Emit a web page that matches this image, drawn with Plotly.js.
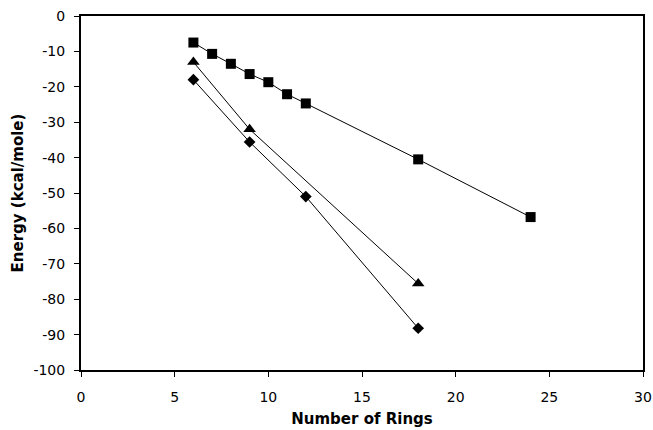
<!DOCTYPE html>
<html><head><meta charset="utf-8">
<script src="https://cdn.plot.ly/plotly-3.0.1.min.js"></script>
<style>html,body{margin:0;padding:0;background:#fff}#chart{width:653px;height:430px}</style>
</head><body><div id="chart"></div>
<script>
const squareX = [6, 7, 8, 9, 10, 11, 12, 18, 24];
const squareY = [-7.5, -10.7, -13.5, -16.4, -18.7, -22.1, -24.7, -40.5, -56.8];
const triangleX = [6, 9, 18];
const triangleY = [-13, -32, -75.6];
const diamondX = [6, 9, 12, 18];
const diamondY = [-18, -35.6, -51, -88.2];
const xTicks = [0, 5, 10, 15, 20, 25, 30];
const yTicks = [0, -10, -20, -30, -40, -50, -60, -70, -80, -90, -100];

const line = {color: '#000', width: 1};
const traces = [
  {x: squareX, y: squareY, mode: 'lines+markers', line: line, marker: {symbol: 'square', size: 10, color: '#000'}},
  {x: triangleX, y: triangleY, mode: 'lines+markers', line: line, marker: {symbol: 'triangle-up', size: 11, color: '#000'}},
  {x: diamondX, y: diamondY, mode: 'lines+markers', line: line, marker: {symbol: 'diamond', size: 9, color: '#000'}}
];
const fam = 'DejaVu Sans, Verdana, sans-serif';
const tickFont = {family: fam, size: 14, color: '#000'};
const titleFont = {family: fam, size: 15, color: '#000', weight: 'bold'};
const layout = {
  width: 653, height: 430,
  margin: {l: 81, r: 10, t: 16, b: 60},
  showlegend: false,
  paper_bgcolor: '#fff', plot_bgcolor: '#fff',
  font: tickFont,
  xaxis: {
    range: [0, 30], tickvals: xTicks, ticktext: xTicks.map(String),
    showgrid: false, zeroline: false, showline: true, mirror: true, automargin: false,
    linecolor: '#000', linewidth: 2, ticks: 'outside', ticklen: 5, tickcolor: '#000',
    tickfont: tickFont, ticklabelstandoff: 8,
    title: {text: 'Number of Rings', font: titleFont, standoff: 10}
  },
  yaxis: {
    range: [-100, 0], tickvals: yTicks, ticktext: yTicks.map(String),
    showgrid: false, zeroline: false, showline: true, mirror: true, automargin: false,
    linecolor: '#000', linewidth: 2, ticks: 'outside', ticklen: 5, tickcolor: '#000',
    tickfont: tickFont, ticklabelstandoff: 6,
    title: {text: 'Energy (kcal/mole)', font: titleFont, standoff: 6}
  }
};
Plotly.newPlot('chart', traces, layout, {displayModeBar: false, staticPlot: true});
</script></body></html>
